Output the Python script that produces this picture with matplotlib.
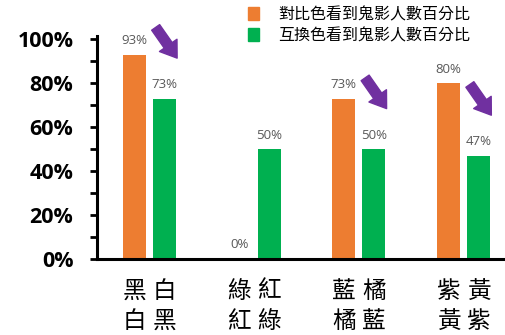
import matplotlib
matplotlib.use("Agg")
import matplotlib.pyplot as plt
from matplotlib.patches import Patch
from matplotlib.ticker import MultipleLocator, PercentFormatter

CJK = ["Noto Sans CJK TC", "DejaVu Sans"]

# data
orange_labels = ["黑\n白", "綠\n紅", "藍\n橘", "紫\n黃"]
green_labels = ["白\n黑", "紅\n綠", "橘\n藍", "黃\n紫"]
orange_vals = [0.93, 0.0, 0.73, 0.80]
green_vals = [0.73, 0.50, 0.50, 0.47]
series_names = ["對比色看到鬼影人數百分比", "互換色看到鬼影人數百分比"]
arrow_groups = [0, 2, 3]

ORANGE = "#ED7D31"
GREEN = "#00B050"
PURPLE = "#7030A0"
GRAY = "#595959"

fig = plt.figure(figsize=(5.06, 3.35), dpi=100)
ax = fig.add_axes([0.1917, 0.227, 0.8083, 0.665])

off, w = 0.143, 0.22
xs = range(len(orange_vals))
xo = [x - off for x in xs]
xg = [x + off for x in xs]
ax.bar(xo, orange_vals, w, color=ORANGE)
ax.bar(xg, green_vals, w, color=GREEN)

for x, v in list(zip(xo, orange_vals)) + list(zip(xg, green_vals)):
    ax.text(x, v + 0.035, f"{v * 100:.0f}%", ha="center", va="bottom",
            fontsize=9.5, color=GRAY, family="Open Sans")

# purple arrows pointing down toward the swapped-colour bar
for g in arrow_groups:
    y0 = green_vals[g]
    ax.annotate("", xy=(g + 0.265, y0 + 0.185), xytext=(g + 0.06, y0 + 0.325),
                arrowprops=dict(arrowstyle="simple,head_length=0.8,head_width=1.1,tail_width=0.5",
                                color=PURPLE, shrinkA=0, shrinkB=0, mutation_scale=14),
                annotation_clip=False)

ax.set_xlim(-0.5, 3.405)
ax.set_ylim(0, 1.015)
ax.yaxis.set_major_locator(MultipleLocator(0.2))
ax.yaxis.set_minor_locator(MultipleLocator(0.1))
ax.yaxis.set_major_formatter(PercentFormatter(1.0, decimals=0))
ax.tick_params(axis="y", which="both", length=5, width=2, pad=12)
for lab in ax.get_yticklabels():
    lab.set_fontfamily("Open Sans")
    lab.set_fontweight("bold")
    lab.set_fontsize(15.5)

ax.set_xticks(xo + xg)
ax.set_xticklabels(orange_labels + green_labels, family=CJK, fontsize=17,
                   linespacing=1.4)
ax.tick_params(axis="x", length=0, pad=15)

for s in ["top", "right"]:
    ax.spines[s].set_visible(False)
ax.spines["left"].set_linewidth(2.2)
ax.spines["bottom"].set_linewidth(2.2)

handles = [Patch(color=ORANGE), Patch(color=GREEN)]
leg = fig.legend(handles, series_names, loc="upper left", bbox_to_anchor=(0.462, 1.025),
                 frameon=False, prop={"family": CJK, "size": 11.5}, handlelength=0.7,
                 handleheight=0.8, handletextpad=1.2, labelspacing=0.25)

fig.savefig("out.png", dpi=100)
